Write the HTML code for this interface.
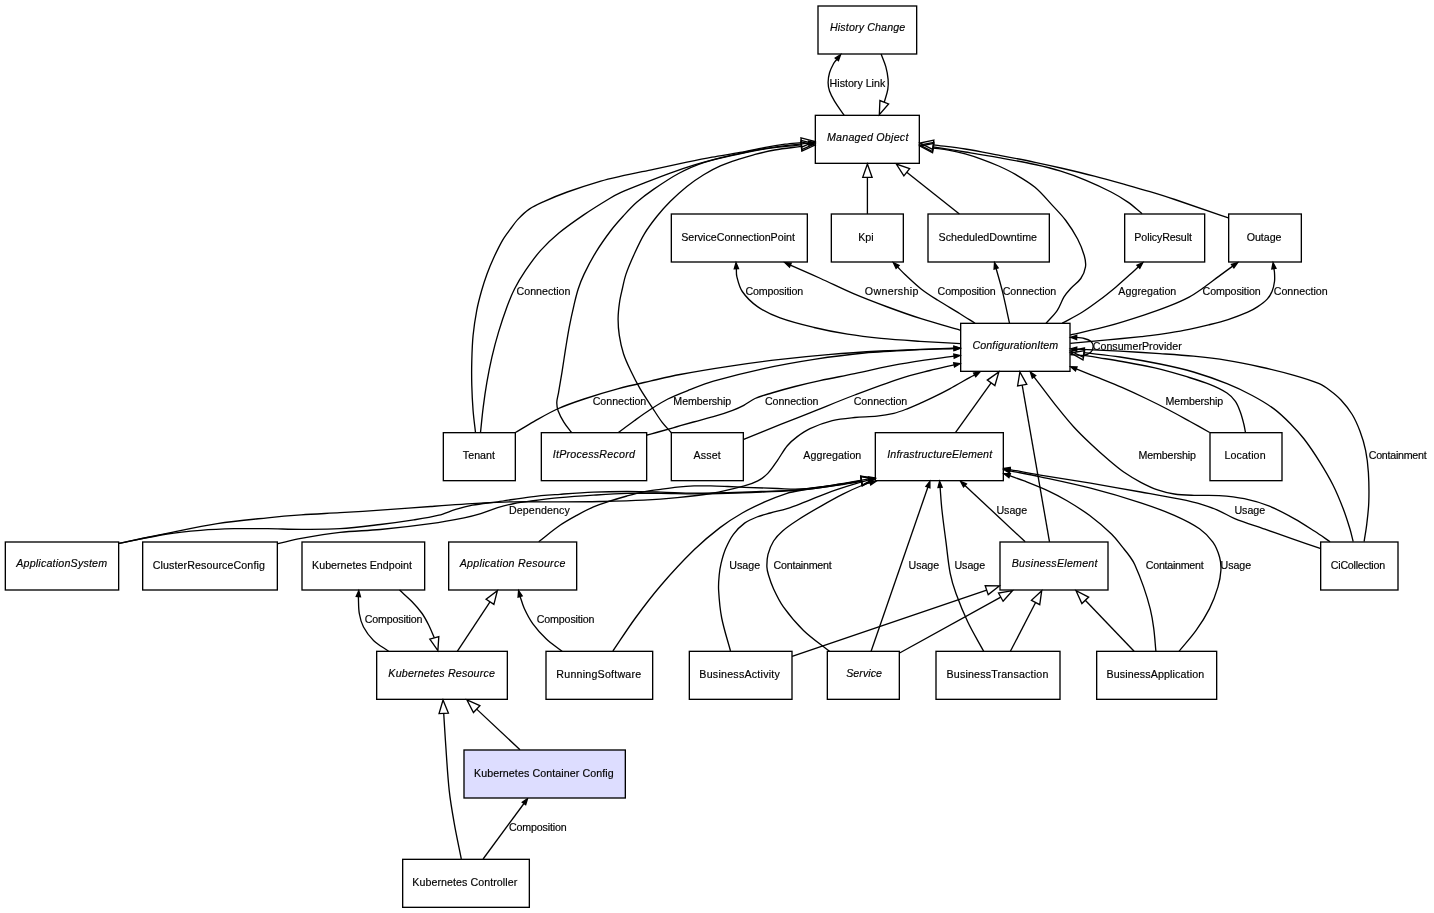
<!DOCTYPE html>
<html><head><meta charset="utf-8"><title>Class Model</title>
<style>html,body{margin:0;padding:0;background:#fff;}body{width:1434px;height:913px;overflow:hidden;}svg{display:block;}text{font-family:"Liberation Sans",Arial,Helvetica,sans-serif;font-size:10.67px;fill:#000;}.i{font-style:italic;}</style>
</head><body>
<svg width="1434" height="913" viewBox="0 0 1434 913">
<rect x="0" y="0" width="1434" height="913" fill="#fff"/>
<g fill="none" stroke="#000" stroke-width="1.3333" stroke-linejoin="miter" stroke-miterlimit="10">
<path d="M844.10,115.20 C840.90,110.50 837.44,105.95 834.50,101.10 C832.61,97.98 830.77,94.72 829.60,91.30 C828.64,88.48 828.10,85.37 828.10,82.40 C828.10,79.10 828.68,75.68 829.60,72.50 C830.48,69.44 831.97,66.50 833.50,63.70 C834.38,62.10 835.73,60.77 836.84,59.30"/>
<polygon points="838.46,60.64 840.65,54.67 835.22,57.97" fill="#000" stroke="#000"/>
<path d="M881.10,54.00 C882.67,58.20 884.61,62.30 885.80,66.60 C886.95,70.76 887.72,75.10 888.10,79.40 C888.39,82.67 888.34,86.07 887.80,89.30 C887.06,93.69 885.44,97.94 884.25,102.27"/>
<polygon points="879.92,100.55 879.33,114.66 888.59,103.99" fill="none" stroke="#000"/>
<path d="M867.40,213.90 L867.40,177.33"/>
<polygon points="872.07,177.33 867.40,164.00 862.73,177.33" fill="none" stroke="#000"/>
<path d="M959.40,213.90 L906.76,172.27"/>
<polygon points="909.66,168.61 896.31,164.00 903.87,175.93" fill="none" stroke="#000"/>
<path d="M1142.10,213.70 C1137.37,209.83 1132.89,205.60 1127.90,202.10 C1122.56,198.36 1116.89,195.01 1111.10,192.00 C1102.92,187.75 1094.52,183.84 1086.00,180.30 C1077.75,176.87 1069.33,173.74 1060.80,171.10 C1052.33,168.48 1043.67,166.38 1035.00,164.50 C1022.97,161.88 1010.82,159.77 998.70,157.60 C987.56,155.60 976.37,153.82 965.20,152.00 C954.54,150.26 943.86,148.62 933.20,146.93"/>
<polygon points="933.87,142.31 920.00,145.00 932.52,151.55" fill="none" stroke="#000"/>
<path d="M1228.40,217.90 C1210.53,211.77 1192.71,205.49 1174.80,199.50 C1166.58,196.75 1158.29,194.21 1150.00,191.70 C1142.66,189.48 1135.28,187.37 1127.90,185.30 C1116.72,182.17 1105.54,179.00 1094.30,176.10 C1083.18,173.23 1071.99,170.60 1060.80,168.00 C1052.22,166.00 1043.63,164.08 1035.00,162.30 C1022.93,159.81 1010.81,157.51 998.70,155.20 C987.54,153.07 976.41,150.78 965.20,149.00 C954.59,147.32 943.88,146.22 933.22,144.83"/>
<polygon points="933.83,140.20 920.00,143.10 932.62,149.46" fill="none" stroke="#000"/>
<path d="M1046.10,323.20 C1049.83,318.90 1054.12,314.97 1057.30,310.30 C1060.09,306.20 1061.40,301.13 1064.00,296.90 C1065.87,293.87 1068.29,291.14 1070.70,288.50 C1073.89,285.01 1078.19,282.33 1080.80,278.50 C1083.12,275.10 1084.88,270.83 1085.50,266.80 C1086.05,263.23 1085.31,259.25 1084.30,255.70 C1082.67,249.98 1080.38,244.29 1077.60,239.00 C1074.21,232.55 1070.17,226.33 1065.80,220.50 C1061.77,215.13 1056.98,210.33 1052.40,205.40 C1046.71,199.27 1041.38,192.64 1035.00,187.30 C1029.04,182.31 1022.13,178.35 1015.40,174.40 C1010.03,171.25 1004.38,168.56 998.70,166.00 C993.21,163.52 987.57,161.35 981.90,159.30 C976.40,157.31 970.83,155.45 965.20,153.90 C959.70,152.39 954.11,151.13 948.50,150.10 C943.44,149.17 938.30,148.72 933.20,148.03"/>
<polygon points="933.87,143.41 920.00,146.10 932.52,152.65" fill="none" stroke="#000"/>
<path d="M475.50,432.50 C474.70,425.23 473.67,417.98 473.10,410.70 C472.44,402.35 472.02,393.97 471.80,385.60 C471.58,377.21 471.58,368.79 471.80,360.40 C472.02,352.03 472.27,343.63 473.10,335.30 C473.94,326.86 475.22,318.43 476.80,310.10 C478.02,303.67 479.72,297.31 481.50,291.00 C483.12,285.27 484.96,279.59 487.00,274.00 C488.96,268.66 491.12,263.37 493.50,258.20 C496.29,252.14 499.16,246.06 502.50,240.30 C504.76,236.40 507.62,232.84 510.30,229.20 C512.82,225.77 515.19,222.18 518.10,219.10 C521.52,215.48 525.20,211.89 529.30,209.10 C533.76,206.06 538.84,203.83 543.80,201.60 C551.51,198.13 559.34,194.86 567.30,192.00 C578.34,188.03 589.55,184.43 600.80,181.10 C607.11,179.23 613.57,177.84 620.00,176.40 C631.14,173.91 642.33,171.67 653.50,169.30 C664.63,166.94 675.75,164.50 686.90,162.20 C695.29,160.47 703.68,158.75 712.10,157.20 C721.38,155.49 730.72,154.11 740.00,152.40 C748.05,150.91 756.04,149.07 764.10,147.60 C771.08,146.33 778.08,145.15 785.10,144.20 C790.50,143.47 795.96,143.09 801.38,142.54"/>
<polygon points="801.80,147.19 814.66,141.35 800.97,137.89" fill="none" stroke="#000"/>
<path d="M480.50,432.50 C481.40,424.10 482.13,415.68 483.20,407.30 C484.27,398.91 485.46,390.53 486.90,382.20 C488.36,373.80 489.97,365.41 491.90,357.10 C493.87,348.64 496.10,340.22 498.60,331.90 C501.14,323.45 503.94,315.07 507.00,306.80 C509.24,300.77 511.58,294.72 514.50,289.00 C517.72,282.69 521.42,276.57 525.40,270.70 C530.09,263.77 534.95,256.84 540.50,250.60 C546.12,244.28 552.37,238.39 558.90,233.00 C566.90,226.39 575.51,220.46 584.10,214.60 C592.28,209.02 600.73,203.82 609.20,198.70 C612.70,196.59 616.27,194.56 620.00,192.90 C628.24,189.23 636.70,186.01 645.10,182.70 C653.43,179.41 661.77,176.12 670.20,173.10 C678.50,170.12 686.88,167.32 695.30,164.70 C702.21,162.55 709.18,160.57 716.20,158.80 C724.08,156.81 732.04,155.09 740.00,153.40 C748.01,151.69 756.01,149.86 764.10,148.60 C776.61,146.66 789.23,145.33 801.80,143.80 C804.09,143.52 806.39,143.39 808.69,143.18"/>
<polygon points="808.87,145.27 814.66,142.65 808.50,141.09" fill="#000" stroke="#000"/>
<path d="M571.50,432.50 C569.00,429.13 566.19,425.96 564.00,422.40 C561.72,418.69 559.56,414.76 558.10,410.70 C557.16,408.06 556.72,405.09 556.80,402.30 C556.89,398.96 558.03,395.64 558.60,392.30 C559.76,385.57 560.92,378.84 562.00,372.10 C563.25,364.31 564.34,356.49 565.60,348.70 C566.78,341.42 567.91,334.14 569.30,326.90 C570.71,319.60 572.30,312.34 574.00,305.10 C575.27,299.70 576.49,294.26 578.20,289.00 C579.85,283.93 581.79,278.91 584.10,274.10 C587.66,266.68 591.49,259.31 595.80,252.30 C600.42,244.78 605.57,237.54 610.90,230.50 C614.74,225.44 619.01,220.69 623.30,216.00 C627.61,211.29 631.92,206.51 636.70,202.30 C641.99,197.64 647.69,193.40 653.50,189.40 C661.65,183.80 669.89,178.15 678.60,173.50 C686.62,169.22 695.05,165.38 703.70,162.60 C715.51,158.81 727.86,156.53 740.00,153.80 C747.99,152.00 756.00,150.17 764.10,149.00 C776.46,147.21 788.94,146.29 801.37,144.93"/>
<polygon points="801.71,149.59 814.66,143.94 801.02,140.28" fill="none" stroke="#000"/>
<path d="M671.20,432.50 C668.20,429.13 664.92,425.99 662.20,422.40 C658.55,417.59 655.42,412.36 652.10,407.30 C648.09,401.19 643.88,395.20 640.20,388.90 C636.71,382.93 633.56,376.75 630.60,370.50 C628.00,365.01 625.35,359.47 623.50,353.70 C621.58,347.73 620.25,341.50 619.30,335.30 C618.45,329.77 618.05,324.10 618.10,318.50 C618.15,312.93 618.81,307.32 619.60,301.80 C620.21,297.49 621.32,293.25 622.30,289.00 C623.45,284.01 624.34,278.93 626.00,274.10 C628.34,267.26 631.29,260.59 634.30,254.00 C637.42,247.16 640.53,240.23 644.40,233.80 C648.16,227.56 652.65,221.70 657.20,216.00 C661.25,210.94 665.61,206.08 670.20,201.50 C675.51,196.21 681.05,191.08 686.90,186.40 C692.22,182.15 697.89,178.26 703.70,174.70 C709.06,171.42 714.65,168.42 720.40,165.90 C726.75,163.12 733.41,161.00 740.00,158.80 C744.51,157.30 749.09,155.97 753.70,154.80 C760.62,153.04 767.57,151.23 774.60,150.00 C783.46,148.45 792.46,147.62 801.38,146.44"/>
<polygon points="801.80,151.09 814.66,145.25 800.97,141.79" fill="none" stroke="#000"/>
<path d="M960.50,343.60 C947.00,342.83 933.49,342.18 920.00,341.30 C907.03,340.45 894.04,339.67 881.10,338.40 C869.90,337.30 858.70,336.01 847.60,334.20 C836.37,332.37 825.16,330.17 814.10,327.50 C802.66,324.74 791.10,321.96 780.10,317.90 C772.23,315.00 764.32,311.36 757.50,306.60 C751.72,302.56 746.24,297.25 742.30,291.50 C739.34,287.19 738.13,281.54 736.80,276.40 C736.16,273.92 736.51,271.24 736.36,268.66"/>
<polygon points="738.46,268.54 736.03,262.67 734.27,268.78" fill="#000" stroke="#000"/>
<path d="M960.50,330.30 C947.37,326.43 934.14,322.87 921.10,318.70 C909.84,315.10 898.69,311.11 887.60,307.00 C876.36,302.84 865.13,298.59 854.10,293.90 C842.80,289.09 831.80,283.56 820.60,278.50 C810.55,273.96 800.44,269.56 790.36,265.08"/>
<polygon points="791.21,263.16 784.87,262.67 789.52,267.01" fill="#000" stroke="#000"/>
<path d="M975.00,323.20 C970.00,320.03 965.04,316.81 960.00,313.70 C952.67,309.18 945.16,304.93 937.90,300.30 C932.20,296.66 926.41,293.07 921.10,288.90 C915.45,284.47 910.26,279.41 905.00,274.50 C902.42,272.09 900.05,269.46 897.57,266.95"/>
<polygon points="899.07,265.47 893.36,262.67 896.07,268.42" fill="#000" stroke="#000"/>
<path d="M1009.50,323.20 C1007.17,312.70 1005.05,302.15 1002.50,291.70 C1000.59,283.90 998.25,276.20 996.12,268.46"/>
<polygon points="998.14,267.90 994.53,262.67 994.09,269.01" fill="#000" stroke="#000"/>
<path d="M1062.30,323.20 C1069.03,319.47 1075.97,316.05 1082.50,312.00 C1088.27,308.42 1093.76,304.37 1099.20,300.30 C1104.93,296.01 1110.50,291.49 1116.00,286.90 C1120.57,283.09 1124.98,279.08 1129.40,275.10 C1132.44,272.36 1135.40,269.53 1138.40,266.75"/>
<polygon points="1139.82,268.29 1142.79,262.67 1136.97,265.21" fill="#000" stroke="#000"/>
<path d="M1070.20,335.00 C1083.00,331.97 1095.91,329.34 1108.60,325.90 C1120.71,322.61 1132.67,318.72 1144.60,314.80 C1152.97,312.05 1161.32,309.16 1169.50,305.90 C1176.15,303.26 1182.79,300.44 1189.10,297.10 C1193.86,294.58 1198.28,291.39 1202.70,288.30 C1208.04,284.56 1213.15,280.48 1218.40,276.60 C1223.16,273.08 1227.94,269.60 1232.71,266.10"/>
<polygon points="1233.91,267.83 1237.63,262.67 1231.50,264.38" fill="#000" stroke="#000"/>
<path d="M1070.20,343.40 C1082.67,342.23 1095.14,341.10 1107.60,339.90 C1118.77,338.83 1129.93,337.71 1141.10,336.60 C1144.07,336.31 1147.05,336.10 1150.00,335.70 C1156.51,334.83 1163.02,333.86 1169.50,332.80 C1176.05,331.73 1182.60,330.61 1189.10,329.30 C1195.63,327.98 1202.14,326.51 1208.60,324.90 C1215.14,323.27 1221.70,321.68 1228.10,319.60 C1234.73,317.45 1241.31,314.97 1247.70,312.20 C1251.07,310.74 1254.35,308.95 1257.40,306.90 C1260.85,304.58 1264.38,302.10 1267.20,299.10 C1269.28,296.90 1270.94,294.10 1272.10,291.30 C1273.37,288.23 1274.07,284.81 1274.50,281.50 C1274.87,278.61 1274.63,275.62 1274.50,272.70 C1274.44,271.33 1274.11,269.97 1273.92,268.61"/>
<polygon points="1275.99,268.31 1273.07,262.67 1271.84,268.91" fill="#000" stroke="#000"/>
<path d="M1070.20,354.50 C1074.47,354.77 1078.83,355.71 1083.00,355.30 C1085.60,355.04 1088.63,354.11 1090.50,352.50 C1092.03,351.18 1093.20,348.48 1093.20,346.50 C1093.20,344.65 1091.97,342.20 1090.50,341.00 C1088.57,339.43 1085.57,338.87 1083.00,338.20 C1080.95,337.67 1078.78,337.66 1076.67,337.39"/>
<polygon points="1076.73,335.29 1070.67,337.21 1076.60,339.49" fill="#000" stroke="#000"/>
<path d="M515.40,432.50 C521.53,428.87 527.58,425.09 533.80,421.60 C541.55,417.25 549.21,412.63 557.30,409.00 C565.98,405.10 575.06,402.01 584.10,399.00 C595.16,395.31 606.35,391.94 617.60,388.90 C628.68,385.91 639.91,383.48 651.10,380.90 C660.71,378.68 670.30,376.31 680.00,374.50 C696.70,371.38 713.49,368.62 730.30,366.10 C747.03,363.59 763.80,361.36 780.60,359.40 C797.30,357.46 814.04,355.80 830.80,354.40 C847.54,353.00 864.32,351.96 881.10,351.00 C894.06,350.26 907.03,349.78 920.00,349.30 C931.33,348.88 942.67,348.63 954.00,348.29"/>
<polygon points="954.06,350.39 960.00,348.11 953.94,346.19" fill="#000" stroke="#000"/>
<path d="M618.40,432.50 C623.70,428.57 628.94,424.55 634.30,420.70 C639.84,416.72 645.37,412.70 651.10,409.00 C656.57,405.47 662.08,401.89 667.90,399.00 C675.04,395.46 682.56,392.61 690.00,389.70 C697.76,386.67 705.50,383.49 713.50,381.20 C730.10,376.45 746.92,372.26 763.80,368.60 C780.45,364.99 797.26,362.01 814.10,359.40 C830.76,356.81 847.51,354.55 864.30,353.00 C882.81,351.29 901.42,350.53 920.00,349.60 C931.32,349.03 942.67,348.87 954.00,348.51"/>
<polygon points="954.07,350.61 960.00,348.32 953.93,346.41" fill="#000" stroke="#000"/>
<path d="M646.90,435.00 C651.27,433.83 655.65,432.71 660.00,431.50 C671.18,428.38 682.32,425.12 693.50,422.00 C700.95,419.92 708.49,418.12 715.90,415.90 C721.52,414.22 727.12,412.38 732.60,410.30 C736.42,408.85 740.19,407.20 743.80,405.30 C747.66,403.27 751.03,400.25 755.00,398.50 C760.33,396.15 766.09,394.68 771.70,393.00 C779.42,390.68 787.19,388.50 795.00,386.50 C803.29,384.37 811.63,382.39 820.00,380.60 C831.53,378.13 843.15,376.09 854.70,373.70 C869.62,370.62 884.41,366.86 899.40,364.20 C917.52,360.99 935.82,358.79 954.03,356.09"/>
<polygon points="954.25,358.18 960.00,355.45 953.81,354.00" fill="#000" stroke="#000"/>
<path d="M743.70,439.30 C756.00,434.33 768.28,429.32 780.60,424.40 C790.38,420.49 800.21,416.69 810.00,412.80 C824.91,406.89 839.71,400.70 854.70,395.00 C869.51,389.37 884.34,383.70 899.40,378.80 C909.44,375.53 919.76,373.11 930.00,370.50 C938.00,368.46 946.08,366.75 954.11,364.88"/>
<polygon points="954.53,366.94 960.00,363.70 953.70,362.82" fill="#000" stroke="#000"/>
<path d="M119.00,543.40 C135.00,540.03 150.97,536.53 167.00,533.30 C183.74,529.93 200.44,526.20 217.30,523.60 C233.97,521.03 250.81,519.54 267.60,517.80 C278.75,516.64 289.92,515.69 301.10,514.90 C314.05,513.99 327.04,513.47 340.00,512.70 C353.44,511.90 366.87,511.12 380.30,510.20 C397.07,509.05 413.83,507.67 430.60,506.50 C447.33,505.33 464.06,504.14 480.80,503.20 C491.96,502.57 503.13,501.98 514.30,501.80 C529.53,501.55 544.77,501.95 560.00,501.90 C573.33,501.85 586.67,501.77 600.00,501.50 C614.60,501.20 629.21,500.92 643.80,500.20 C654.98,499.65 666.16,498.81 677.30,497.70 C688.49,496.58 699.73,495.45 710.80,493.50 C722.06,491.52 733.26,488.86 744.30,485.90 C748.93,484.66 753.61,483.13 757.80,480.90 C761.44,478.96 764.94,476.37 767.80,473.40 C771.40,469.67 774.18,465.08 777.20,460.80 C780.68,455.85 783.46,450.32 787.30,445.70 C790.16,442.26 793.71,439.30 797.30,436.60 C801.28,433.60 805.48,430.67 810.00,428.60 C817.14,425.34 824.68,422.49 832.30,420.60 C839.58,418.79 847.20,418.24 854.70,417.50 C862.10,416.77 869.61,416.98 877.00,416.20 C882.64,415.61 888.30,414.75 893.80,413.40 C898.37,412.28 902.80,410.50 907.20,408.80 C912.10,406.90 916.90,404.73 921.70,402.60 C925.46,400.93 929.21,399.22 932.90,397.40 C938.54,394.62 944.16,391.78 949.70,388.80 C956.53,385.12 963.22,381.18 970.00,377.40 C971.54,376.54 973.09,375.72 974.63,374.87"/>
<polygon points="975.64,376.72 979.90,372.00 973.63,373.03" fill="#000" stroke="#000"/>
<path d="M955.60,432.30 L991.10,382.83"/>
<polygon points="994.89,385.55 998.87,372.00 987.30,380.11" fill="none" stroke="#000"/>
<path d="M1049.50,541.80 L1022.19,385.14"/>
<polygon points="1026.79,384.33 1019.90,372.00 1017.60,385.94" fill="none" stroke="#000"/>
<path d="M1209.70,432.50 C1203.13,428.83 1196.59,425.13 1190.00,421.50 C1182.69,417.47 1175.40,413.37 1168.00,409.50 C1160.74,405.70 1153.39,402.04 1146.00,398.50 C1138.03,394.68 1130.00,390.94 1121.90,387.40 C1114.50,384.17 1106.98,381.23 1099.50,378.20 C1091.77,375.07 1084.00,372.02 1076.26,368.93"/>
<polygon points="1077.02,366.98 1070.67,366.74 1075.49,370.89" fill="#000" stroke="#000"/>
<path d="M1245.50,432.50 C1244.93,429.67 1244.50,426.80 1243.80,424.00 C1242.80,420.03 1241.82,416.03 1240.40,412.20 C1239.02,408.46 1237.65,404.52 1235.40,401.30 C1233.18,398.12 1230.24,395.16 1227.00,393.00 C1221.87,389.59 1216.07,386.91 1210.30,384.60 C1202.10,381.31 1193.55,378.83 1185.10,376.20 C1177.45,373.83 1169.75,371.62 1162.00,369.60 C1156.71,368.22 1151.36,367.08 1146.00,366.00 C1137.99,364.38 1129.95,362.92 1121.90,361.50 C1114.45,360.19 1106.97,359.02 1099.50,357.80 C1094.27,356.95 1089.03,356.13 1083.80,355.29"/>
<polygon points="1084.61,350.69 1070.67,352.97 1082.99,359.88" fill="none" stroke="#000"/>
<path d="M1330.10,541.70 C1324.97,538.23 1319.90,534.66 1314.70,531.30 C1308.07,527.02 1301.49,522.62 1294.60,518.80 C1286.39,514.25 1278.09,509.67 1269.40,506.20 C1261.32,502.97 1252.81,500.49 1244.30,498.70 C1236.05,496.96 1227.53,496.17 1219.10,495.60 C1210.76,495.04 1202.36,495.60 1194.00,495.30 C1187.43,495.07 1180.78,494.96 1174.30,494.00 C1168.65,493.16 1162.99,491.78 1157.60,489.90 C1151.82,487.88 1146.23,485.15 1140.80,482.30 C1135.07,479.29 1129.40,476.02 1124.10,472.30 C1118.23,468.18 1112.77,463.45 1107.30,458.80 C1101.60,453.95 1096.02,448.95 1090.60,443.80 C1084.86,438.35 1079.13,432.85 1073.80,427.00 C1067.93,420.55 1062.45,413.72 1057.00,406.90 C1051.29,399.75 1045.86,392.37 1040.30,385.10 C1038.19,382.33 1036.09,379.55 1033.98,376.78"/>
<polygon points="1035.66,375.51 1030.36,372.00 1032.31,378.05" fill="#000" stroke="#000"/>
<path d="M1364.10,541.70 C1365.00,535.73 1366.09,529.79 1366.80,523.80 C1367.66,516.56 1368.57,509.28 1368.80,502.00 C1369.11,492.22 1369.00,482.37 1368.40,472.60 C1367.94,465.13 1367.09,457.62 1365.60,450.30 C1364.29,443.85 1362.31,437.47 1360.00,431.30 C1357.84,425.53 1355.38,419.75 1352.20,414.50 C1349.05,409.31 1345.13,404.46 1341.00,400.00 C1337.73,396.46 1333.87,393.39 1330.00,390.50 C1326.60,387.96 1323.10,385.34 1319.20,383.70 C1311.13,380.31 1302.57,377.81 1294.10,375.40 C1283.04,372.25 1271.83,369.53 1260.60,367.00 C1249.46,364.49 1238.27,362.13 1227.00,360.30 C1215.90,358.50 1204.69,357.22 1193.50,356.10 C1182.36,354.99 1171.17,354.34 1160.00,353.60 C1146.67,352.71 1133.34,351.91 1120.00,351.20 C1105.56,350.44 1091.11,349.86 1076.66,349.19"/>
<polygon points="1076.76,347.10 1070.67,348.92 1076.57,351.29" fill="#000" stroke="#000"/>
<path d="M1353.20,541.70 C1352.10,537.40 1351.19,533.05 1349.90,528.80 C1347.85,522.05 1345.74,515.28 1343.20,508.70 C1340.14,500.75 1336.91,492.81 1333.10,485.20 C1329.08,477.18 1324.47,469.41 1319.70,461.80 C1314.81,454.01 1309.69,446.29 1304.10,439.00 C1300.03,433.69 1295.43,428.73 1290.70,424.00 C1285.40,418.70 1280.01,413.35 1274.00,408.90 C1267.17,403.85 1259.71,399.52 1252.20,395.50 C1244.04,391.12 1235.60,387.14 1227.00,383.70 C1216.03,379.31 1204.83,375.33 1193.50,372.00 C1182.50,368.77 1171.24,366.29 1160.00,364.00 C1146.74,361.29 1133.38,359.00 1120.00,357.00 C1108.02,355.21 1095.94,354.10 1083.91,352.64"/>
<polygon points="1084.47,348.01 1070.67,351.04 1083.35,357.28" fill="none" stroke="#000"/>
<path d="M119.00,543.40 C135.00,540.27 150.92,536.58 167.00,534.00 C178.12,532.22 189.37,531.19 200.60,530.30 C211.74,529.42 222.93,528.97 234.10,528.70 C245.26,528.43 256.43,528.60 267.60,528.70 C278.77,528.80 289.93,529.30 301.10,529.30 C314.07,529.30 327.07,529.48 340.00,528.70 C353.47,527.88 366.89,526.10 380.30,524.50 C391.49,523.17 402.67,521.67 413.80,519.90 C422.20,518.57 430.66,517.26 438.90,515.20 C444.63,513.76 450.03,511.09 455.70,509.40 C461.23,507.75 466.83,506.23 472.50,505.20 C480.80,503.70 489.24,503.00 497.60,501.80 C508.78,500.20 519.90,498.15 531.10,496.80 C540.70,495.65 550.36,495.03 560.00,494.30 C571.16,493.46 582.32,492.57 593.50,492.10 C604.66,491.63 615.83,491.50 627.00,491.50 C638.20,491.50 649.40,491.82 660.60,492.10 C671.77,492.38 682.93,493.10 694.10,493.20 C705.26,493.30 716.44,492.98 727.60,492.70 C738.77,492.42 749.94,491.98 761.10,491.50 C774.07,490.94 787.09,490.83 800.00,489.60 C813.39,488.33 826.70,486.06 840.00,484.00 C849.61,482.51 859.17,480.64 868.75,478.96"/>
<polygon points="869.12,481.03 874.66,477.93 868.39,476.90" fill="#000" stroke="#000"/>
<path d="M278.00,543.70 C285.70,541.93 293.33,539.83 301.10,538.40 C314.00,536.03 326.97,533.76 340.00,532.30 C353.37,530.80 366.90,530.79 380.30,529.50 C397.10,527.89 413.89,525.93 430.60,523.60 C441.82,522.03 452.99,520.01 464.10,517.80 C469.73,516.68 475.31,515.26 480.80,513.60 C486.48,511.89 491.92,509.41 497.60,507.70 C503.09,506.04 508.68,504.62 514.30,503.50 C519.84,502.39 525.48,501.71 531.10,501.00 C540.72,499.78 550.35,498.60 560.00,497.70 C571.15,496.66 582.33,495.92 593.50,495.20 C604.66,494.48 615.83,493.72 627.00,493.40 C638.19,493.08 649.40,493.23 660.60,493.30 C671.77,493.37 682.93,493.80 694.10,493.80 C705.27,493.80 716.44,493.60 727.60,493.30 C738.77,493.00 749.94,492.51 761.10,492.00 C774.07,491.41 787.08,491.21 800.00,490.00 C813.38,488.74 826.69,486.56 840.00,484.60 C847.20,483.54 854.34,482.17 861.52,480.95"/>
<polygon points="862.30,485.55 874.66,478.72 860.74,476.35" fill="none" stroke="#000"/>
<path d="M538.70,541.70 C545.80,536.23 552.65,530.39 560.00,525.30 C565.35,521.59 571.09,518.44 576.80,515.30 C582.26,512.30 587.78,509.34 593.50,506.90 C598.95,504.57 604.66,502.84 610.30,501.00 C615.82,499.20 621.40,497.54 627.00,496.00 C632.56,494.47 638.15,492.93 643.80,491.80 C649.35,490.69 654.99,490.09 660.60,489.30 C666.16,488.52 671.72,487.67 677.30,487.10 C682.88,486.53 688.49,486.10 694.10,485.90 C699.66,485.70 705.24,485.80 710.80,485.90 C716.40,486.00 722.00,486.27 727.60,486.50 C733.17,486.73 738.73,487.08 744.30,487.30 C755.50,487.75 766.70,488.16 777.90,488.50 C785.26,488.72 792.67,489.51 800.00,489.00 C813.37,488.07 826.70,486.03 840.00,484.20 C847.21,483.21 854.34,481.77 861.52,480.55"/>
<polygon points="862.30,485.15 874.66,478.32 860.74,475.95" fill="none" stroke="#000"/>
<path d="M612.90,651.00 C620.40,640.00 627.55,628.75 635.40,618.00 C643.45,606.98 651.70,596.04 660.60,585.70 C671.27,573.31 682.42,561.23 694.10,549.80 C702.22,541.86 710.98,534.49 720.00,527.60 C727.05,522.22 734.61,517.42 742.30,513.00 C749.51,508.85 757.08,505.26 764.70,501.90 C771.98,498.69 779.44,495.74 787.00,493.30 C791.21,491.94 795.63,491.20 800.00,490.50 C813.29,488.37 826.68,486.80 840.00,484.80 C847.18,483.72 854.34,482.45 861.51,481.28"/>
<polygon points="862.26,485.88 874.66,479.12 860.75,476.67" fill="none" stroke="#000"/>
<path d="M730.50,651.00 C727.57,640.00 723.87,629.14 721.70,618.00 C719.91,608.81 719.14,599.35 718.60,590.00 C718.31,585.02 718.73,579.97 719.20,575.00 C719.57,571.07 720.16,567.13 721.10,563.30 C722.30,558.40 723.63,553.44 725.60,548.80 C727.73,543.77 730.17,538.67 733.40,534.30 C736.51,530.10 740.40,526.19 744.60,523.10 C748.24,520.42 752.66,518.67 756.90,517.00 C761.22,515.30 765.81,514.25 770.30,513.00 C775.84,511.45 781.52,510.33 787.00,508.60 C792.68,506.80 798.23,504.55 803.80,502.40 C813.13,498.79 822.27,494.64 831.70,491.30 C841.64,487.78 851.81,484.88 861.90,481.80 C864.20,481.10 866.54,480.56 868.87,479.94"/>
<polygon points="869.41,481.97 874.66,478.40 868.32,477.91" fill="#000" stroke="#000"/>
<path d="M829.50,651.30 C820.83,644.33 811.47,638.08 803.50,630.40 C796.11,623.28 789.38,615.23 783.40,606.90 C779.35,601.26 776.35,594.81 773.40,588.50 C771.38,584.17 769.88,579.57 768.50,575.00 C767.72,572.40 766.97,569.69 766.90,567.00 C766.80,562.83 766.96,558.43 768.00,554.40 C769.19,549.77 771.08,545.06 773.60,541.00 C775.95,537.22 779.21,533.83 782.60,530.90 C787.41,526.73 792.83,523.18 798.20,519.70 C805.50,514.98 813.05,510.62 820.60,506.30 C827.95,502.09 835.32,497.88 842.90,494.10 C850.22,490.45 857.75,487.13 865.30,484.00 C866.85,483.36 868.56,483.19 870.19,482.79"/>
<polygon points="870.70,484.82 876.02,481.34 869.69,480.75" fill="#000" stroke="#000"/>
<path d="M871.10,651.30 L927.92,487.01"/>
<polygon points="929.91,487.70 929.88,481.34 925.94,486.32" fill="#000" stroke="#000"/>
<path d="M983.70,651.30 C978.40,641.53 972.60,632.01 967.80,622.00 C963.36,612.74 959.50,603.15 956.00,593.50 C953.63,586.95 951.53,580.23 950.20,573.40 C948.20,563.13 947.35,552.61 946.00,542.20 C944.55,531.04 943.00,519.89 941.80,508.70 C941.04,501.59 940.67,494.45 940.10,487.32"/>
<polygon points="942.20,487.15 939.63,481.34 938.01,487.49" fill="#000" stroke="#000"/>
<path d="M1025.20,541.80 L964.95,485.44"/>
<polygon points="966.38,483.91 960.56,481.34 963.51,486.97" fill="#000" stroke="#000"/>
<path d="M1155.90,651.30 C1155.17,643.60 1154.72,635.86 1153.70,628.20 C1152.85,621.83 1151.83,615.44 1150.30,609.20 C1148.46,601.67 1146.16,594.22 1143.60,586.90 C1140.96,579.32 1137.98,571.81 1134.70,564.50 C1133.51,561.85 1131.87,559.38 1130.20,557.00 C1127.94,553.78 1125.39,550.75 1122.90,547.70 C1119.22,543.19 1115.87,538.33 1111.70,534.30 C1104.70,527.53 1097.20,521.14 1089.40,515.30 C1082.30,509.98 1074.64,505.34 1067.00,500.80 C1061.07,497.27 1054.96,493.99 1048.70,491.10 C1040.46,487.29 1031.95,484.04 1023.50,480.70 C1018.93,478.90 1014.26,477.36 1009.65,475.69"/>
<polygon points="1010.36,473.71 1004.00,473.65 1008.93,477.66" fill="#000" stroke="#000"/>
<path d="M1179.00,651.30 C1184.70,644.33 1190.88,637.71 1196.10,630.40 C1201.05,623.47 1205.68,616.19 1209.50,608.60 C1212.95,601.75 1215.71,594.44 1217.90,587.10 C1219.51,581.71 1220.58,575.99 1220.90,570.40 C1221.15,566.06 1220.78,561.47 1219.60,557.30 C1218.12,552.07 1216.02,546.62 1212.90,542.20 C1209.32,537.12 1204.63,532.36 1199.50,528.80 C1191.77,523.43 1182.98,519.24 1174.30,515.40 C1163.41,510.58 1152.14,506.48 1140.80,502.80 C1124.24,497.42 1107.46,492.56 1090.60,488.20 C1073.96,483.90 1057.11,480.42 1040.30,476.80 C1030.20,474.63 1020.03,472.82 1009.89,470.83"/>
<polygon points="1010.30,468.77 1004.00,469.68 1009.49,472.89" fill="#000" stroke="#000"/>
<path d="M1320.90,548.60 C1311.17,545.30 1301.41,542.06 1291.70,538.70 C1282.74,535.60 1273.84,532.35 1264.90,529.20 C1254.84,525.65 1244.58,522.57 1234.70,518.60 C1229.32,516.44 1224.43,513.10 1219.10,510.80 C1213.63,508.44 1208.01,506.29 1202.30,504.60 C1194.98,502.43 1187.49,500.73 1180.00,499.20 C1166.99,496.53 1153.88,494.34 1140.80,492.00 C1124.08,489.01 1107.35,486.02 1090.60,483.20 C1073.85,480.38 1057.04,477.93 1040.30,475.10 C1030.15,473.38 1020.04,471.40 1009.91,469.55"/>
<polygon points="1010.28,467.49 1004.00,468.47 1009.53,471.62" fill="#000" stroke="#000"/>
<path d="M388.60,651.30 C383.57,647.67 377.91,644.67 373.50,640.40 C369.54,636.57 366.06,631.86 363.50,627.00 C361.33,622.89 360.08,618.11 359.30,613.50 C358.37,608.00 358.66,602.27 358.35,596.65"/>
<polygon points="360.44,596.80 358.77,590.67 356.25,596.51" fill="#000" stroke="#000"/>
<path d="M399.50,590.10 C403.70,594.00 408.12,597.68 412.10,601.80 C415.66,605.48 419.14,609.34 422.10,613.50 C424.71,617.17 426.77,621.26 428.80,625.30 C430.84,629.37 432.47,633.65 434.31,637.82"/>
<polygon points="429.82,639.08 437.90,650.66 438.80,636.56" fill="none" stroke="#000"/>
<path d="M457.30,651.30 L490.01,601.79"/>
<polygon points="493.90,604.37 497.36,590.67 486.11,599.22" fill="none" stroke="#000"/>
<path d="M562.10,651.30 C556.77,647.10 551.02,643.34 546.10,638.70 C541.22,634.10 536.62,629.02 532.70,623.60 C529.35,618.96 526.72,613.71 524.30,608.50 C522.52,604.66 521.51,600.48 520.11,596.47"/>
<polygon points="522.15,595.94 518.60,590.67 518.08,597.01" fill="#000" stroke="#000"/>
<path d="M792.10,656.40 L986.71,590.22"/>
<polygon points="988.21,594.64 999.33,585.93 985.20,585.80" fill="none" stroke="#000"/>
<path d="M899.60,653.00 L1000.80,597.12"/>
<polygon points="1003.05,601.20 1012.47,590.67 998.54,593.03" fill="none" stroke="#000"/>
<path d="M1010.40,651.30 L1035.59,602.52"/>
<polygon points="1039.74,604.66 1041.71,590.67 1031.44,600.38" fill="none" stroke="#000"/>
<path d="M1134.10,651.30 L1085.27,600.30"/>
<polygon points="1088.64,597.07 1076.05,590.67 1081.90,603.53" fill="none" stroke="#000"/>
<path d="M461.30,859.00 C458.93,847.03 456.32,835.11 454.20,823.10 C452.29,812.24 450.36,801.36 449.20,790.40 C447.43,773.72 446.59,756.94 445.40,740.20 C444.76,731.24 444.27,722.28 443.71,713.32"/>
<polygon points="448.37,713.08 443.03,700.00 439.05,713.56" fill="none" stroke="#000"/>
<path d="M520.00,749.80 L476.66,709.12"/>
<polygon points="479.85,705.72 466.93,700.00 473.46,712.53" fill="none" stroke="#000"/>
<path d="M483.10,859.00 L523.97,803.50"/>
<polygon points="525.66,804.75 527.53,798.67 522.28,802.26" fill="#000" stroke="#000"/>
<rect x="818.00" y="6.00" width="98.67" height="48" fill="none"/>
<rect x="815.33" y="115.33" width="104.00" height="48" fill="none"/>
<rect x="671.33" y="214.00" width="136.00" height="48" fill="none"/>
<rect x="831.33" y="214.00" width="72.00" height="48" fill="none"/>
<rect x="928.00" y="214.00" width="121.33" height="48" fill="none"/>
<rect x="1124.67" y="214.00" width="80.00" height="48" fill="none"/>
<rect x="1228.67" y="214.00" width="72.67" height="48" fill="none"/>
<rect x="960.67" y="323.33" width="109.33" height="48" fill="none"/>
<rect x="443.33" y="432.67" width="72.00" height="48" fill="none"/>
<rect x="541.33" y="432.67" width="105.33" height="48" fill="none"/>
<rect x="671.33" y="432.67" width="72.00" height="48" fill="none"/>
<rect x="875.33" y="432.67" width="128.00" height="48" fill="none"/>
<rect x="1210.00" y="432.67" width="72.00" height="48" fill="none"/>
<rect x="5.33" y="542.00" width="113.33" height="48" fill="none"/>
<rect x="142.67" y="542.00" width="134.67" height="48" fill="none"/>
<rect x="302.00" y="542.00" width="122.67" height="48" fill="none"/>
<rect x="448.67" y="542.00" width="128.00" height="48" fill="none"/>
<rect x="1000.00" y="542.00" width="108.00" height="48" fill="none"/>
<rect x="1320.67" y="542.00" width="77.33" height="48" fill="none"/>
<rect x="376.67" y="651.33" width="130.67" height="48" fill="none"/>
<rect x="546.00" y="651.33" width="106.67" height="48" fill="none"/>
<rect x="689.33" y="651.33" width="102.67" height="48" fill="none"/>
<rect x="827.33" y="651.33" width="72.00" height="48" fill="none"/>
<rect x="936.00" y="651.33" width="124.00" height="48" fill="none"/>
<rect x="1096.67" y="651.33" width="120.00" height="48" fill="none"/>
<rect x="464.00" y="750.00" width="161.33" height="48" fill="#ddddff"/>
<rect x="402.67" y="859.33" width="126.67" height="48" fill="none"/>
</g>
<g stroke="#000" stroke-width="0.18" stroke-linejoin="round" style="will-change:opacity;opacity:0.999">
<text x="830.03" y="31.00" class="i" letter-spacing="0.132">History Change</text>
<text x="826.90" y="141.00" class="i" letter-spacing="0.252">Managed Object</text>
<text x="681.18" y="241.00">ServiceConnectionPoint</text>
<text x="858.27" y="241.00">Kpi</text>
<text x="938.58" y="241.00" letter-spacing="0.045">ScheduledDowntime</text>
<text x="1134.37" y="241.00" letter-spacing="-0.099">PolicyResult</text>
<text x="1246.72" y="241.00" letter-spacing="-0.044">Outage</text>
<text x="972.54" y="349.00" class="i" letter-spacing="0.097">ConfigurationItem</text>
<text x="462.84" y="459.00" letter-spacing="0.037">Tenant</text>
<text x="552.76" y="458.00" class="i" letter-spacing="0.245">ItProcessRecord</text>
<text x="693.57" y="459.00" letter-spacing="0.152">Asset</text>
<text x="887.26" y="458.00" class="i" letter-spacing="0.149">InfrastructureElement</text>
<text x="1224.57" y="459.00" letter-spacing="0.101">Location</text>
<text x="16.26" y="567.00" class="i" letter-spacing="0.199">ApplicationSystem</text>
<text x="152.69" y="569.00" letter-spacing="0.099">ClusterResourceConfig</text>
<text x="312.07" y="569.00" letter-spacing="0.016">Kubernetes Endpoint</text>
<text x="459.76" y="567.00" class="i" letter-spacing="0.263">Application Resource</text>
<text x="1011.73" y="567.00" class="i" letter-spacing="0.246">BusinessElement</text>
<text x="1330.79" y="569.00" letter-spacing="-0.228">CiCollection</text>
<text x="388.33" y="677.00" class="i" letter-spacing="0.196">Kubernetes Resource</text>
<text x="556.37" y="678.00" letter-spacing="0.217">RunningSoftware</text>
<text x="699.37" y="678.00" letter-spacing="0.234">BusinessActivity</text>
<text x="846.23" y="677.00" class="i" letter-spacing="0.036">Service</text>
<text x="946.47" y="678.00" letter-spacing="0.187">BusinessTransaction</text>
<text x="1106.47" y="678.00" letter-spacing="0.126">BusinessApplication</text>
<text x="473.97" y="777.00" letter-spacing="0.087">Kubernetes Container Config</text>
<text x="412.27" y="886.00" letter-spacing="0.065">Kubernetes Controller</text>
<text x="829.57" y="86.90">History Link</text>
<text x="516.59" y="294.90" letter-spacing="-0.012">Connection</text>
<text x="745.49" y="294.90" letter-spacing="-0.151">Composition</text>
<text x="864.82" y="294.90" letter-spacing="0.324">Ownership</text>
<text x="937.59" y="294.90" letter-spacing="-0.111">Composition</text>
<text x="1002.69" y="294.90" letter-spacing="-0.034">Connection</text>
<text x="1118.27" y="294.90" letter-spacing="0.056">Aggregation</text>
<text x="1202.59" y="294.90" letter-spacing="-0.111">Composition</text>
<text x="1273.69" y="294.90" letter-spacing="0.010">Connection</text>
<text x="1092.79" y="349.70" letter-spacing="0.007">ConsumerProvider</text>
<text x="592.69" y="405.00" letter-spacing="-0.034">Connection</text>
<text x="673.37" y="405.00" letter-spacing="-0.096">Membership</text>
<text x="764.89" y="405.00" letter-spacing="-0.034">Connection</text>
<text x="853.69" y="405.00" letter-spacing="-0.034">Connection</text>
<text x="1165.57" y="405.00" letter-spacing="-0.107">Membership</text>
<text x="803.37" y="458.80" letter-spacing="0.046">Aggregation</text>
<text x="1138.47" y="458.80" letter-spacing="-0.119">Membership</text>
<text x="1368.69" y="458.80" letter-spacing="-0.243">Containment</text>
<text x="508.97" y="513.80" letter-spacing="0.110">Dependency</text>
<text x="996.41" y="513.80" letter-spacing="-0.027">Usage</text>
<text x="1234.41" y="513.80" letter-spacing="-0.027">Usage</text>
<text x="729.31" y="568.80" letter-spacing="0.023">Usage</text>
<text x="773.59" y="568.80" letter-spacing="-0.233">Containment</text>
<text x="908.51" y="568.80" letter-spacing="-0.027">Usage</text>
<text x="954.41" y="568.80" letter-spacing="-0.027">Usage</text>
<text x="1145.79" y="568.80" letter-spacing="-0.253">Containment</text>
<text x="1220.51" y="568.80" letter-spacing="-0.027">Usage</text>
<text x="364.69" y="622.80" letter-spacing="-0.151">Composition</text>
<text x="536.79" y="622.80" letter-spacing="-0.151">Composition</text>
<text x="508.89" y="831.40" letter-spacing="-0.131">Composition</text>
</g>
</svg></body></html>
